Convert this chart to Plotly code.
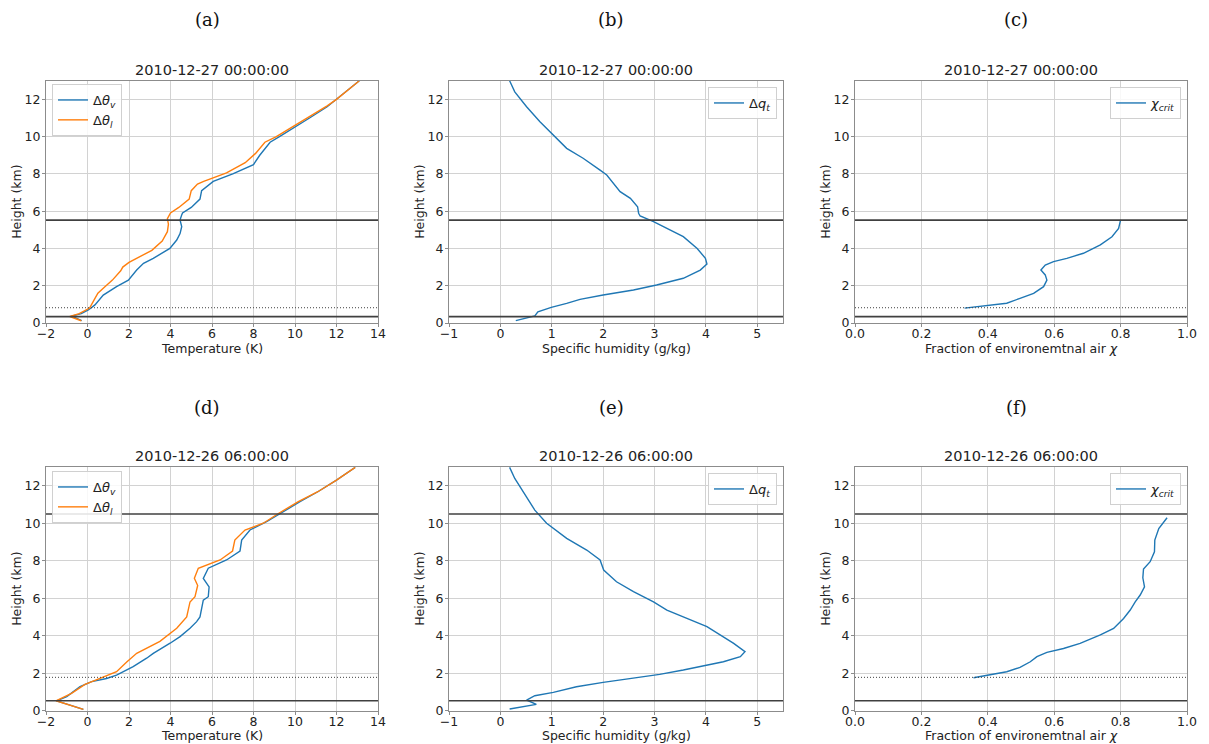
import plotly.graph_objects as go

# ---------------- data ----------------
row_titles = ["2010-12-27 00:00:00", "2010-12-26 06:00:00"]
panel_labels = ["(a)", "(b)", "(c)", "(d)", "(e)", "(f)"]

# (a) temperature, 2010-12-27 00:00
a_thv_x = [-0.28, -0.76, -0.3, 0.04, 0.36, 0.76, 1.4, 1.97, 2.37, 2.7, 3.17, 3.97, 4.3, 4.46, 4.54, 4.46, 4.54,
           4.58, 5.0, 5.42, 5.5, 6.06, 7.0, 8.0, 8.3, 8.8, 9.25, 10.0, 10.7, 11.55, 12.0, 13.1]
a_thv_y = [0.13, 0.37, 0.5, 0.7, 0.97, 1.5, 1.95, 2.3, 2.84, 3.2, 3.47, 4.0, 4.45, 4.8, 5.17, 5.53, 5.8,
           5.9, 6.2, 6.65, 7.1, 7.6, 8.0, 8.5, 9.0, 9.7, 10.0, 10.5, 11.0, 11.6, 12.0, 13.0]
a_thl_x = [-0.3, -0.85, -0.4, 0.1, 0.3, 0.5, 0.8, 1.2, 1.6, 1.7, 2.0, 2.6, 3.1, 3.6, 3.85, 3.9, 3.85, 4.0,
           4.4, 4.9, 5.0, 5.3, 5.6, 6.7, 7.6, 8.1, 8.55, 9.1, 9.85, 10.6, 11.55, 12.0, 13.1]
a_thl_y = [0.12, 0.35, 0.5, 0.8, 1.2, 1.6, 1.9, 2.3, 2.8, 3.0, 3.25, 3.6, 3.9, 4.4, 4.9, 5.3, 5.6, 5.9,
           6.2, 6.65, 7.1, 7.45, 7.6, 8.05, 8.6, 9.1, 9.7, 10.0, 10.5, 11.0, 11.65, 12.0, 13.0]

# (b) specific humidity, 2010-12-27 00:00
b_q_x = [0.3, 0.67, 0.73, 0.99, 1.29, 1.55, 2.0, 2.59, 3.04, 3.56, 3.89, 4.02, 3.99, 3.83, 3.56, 3.24, 2.98,
         2.72, 2.69, 2.67, 2.53, 2.33, 2.2, 2.07, 1.94, 1.61, 1.29, 1.03, 0.77, 0.51, 0.28, 0.18]
b_q_y = [0.13, 0.38, 0.6, 0.84, 1.05, 1.27, 1.5, 1.77, 2.04, 2.4, 2.84, 3.17, 3.47, 4.0, 4.63, 5.08, 5.44,
         5.74, 5.89, 6.24, 6.69, 7.05, 7.5, 7.94, 8.2, 8.84, 9.37, 10.09, 10.8, 11.6, 12.4, 13.0]

# (c) critical mixing fraction, 2010-12-27 00:00
c_chi_x = [0.33, 0.377, 0.417, 0.457, 0.497, 0.538, 0.568, 0.578, 0.573, 0.56, 0.573, 0.598, 0.638, 0.688,
           0.739, 0.774, 0.794, 0.80]
c_chi_y = [0.8, 0.91, 0.97, 1.06, 1.32, 1.59, 1.95, 2.3, 2.58, 2.84, 3.11, 3.29, 3.47, 3.74, 4.19, 4.63,
           5.08, 5.53]

# (d) temperature, 2010-12-26 06:00
d_thv_x = [-0.2, -1.49, -1.0, -0.36, 0.2, 0.92, 1.4, 2.2, 2.85, 3.17, 3.98, 4.46, 4.94, 5.26, 5.42, 5.5,
           5.58, 5.82, 5.86, 5.58, 5.82, 6.7, 7.35, 7.43, 7.83, 8.63, 9.28, 10.24, 11.1, 12.0, 12.9]
d_thv_y = [0.07, 0.52, 0.75, 1.28, 1.55, 1.72, 1.9, 2.35, 2.8, 3.06, 3.6, 3.95, 4.4, 4.75, 5.0, 5.46,
           5.9, 6.08, 6.6, 7.06, 7.6, 8.04, 8.52, 9.1, 9.64, 10.08, 10.52, 11.15, 11.68, 12.3, 12.98]
d_thl_x = [-0.2, -1.52, -0.77, -0.12, 0.6, 1.4, 1.89, 2.37, 3.49, 4.3, 4.78, 4.94, 5.18, 5.31, 5.15, 5.34,
           6.39, 6.99, 7.1, 7.59, 8.47, 9.2, 10.16, 11.1, 12.0, 12.9]
d_thl_y = [0.07, 0.53, 0.92, 1.4, 1.72, 2.08, 2.6, 3.06, 3.7, 4.4, 5.0, 5.8, 6.08, 6.68, 7.06, 7.6,
           8.04, 8.52, 9.1, 9.64, 10.0, 10.52, 11.15, 11.68, 12.3, 12.98]

# (e) specific humidity, 2010-12-26 06:00
e_q_x = [0.18, 0.7, 0.51, 0.67, 1.03, 1.48, 2.0, 2.59, 3.1, 3.56, 3.89, 4.34, 4.67, 4.76, 4.54, 4.28, 4.02,
         3.63, 3.24, 2.98, 2.85, 2.59, 2.26, 2.01, 1.94, 1.68, 1.29, 0.9, 0.67, 0.47, 0.28, 0.18]
e_q_y = [0.09, 0.34, 0.57, 0.8, 0.98, 1.28, 1.51, 1.72, 1.94, 2.17, 2.35, 2.61, 2.88, 3.15, 3.59, 4.04,
         4.48, 4.92, 5.37, 5.81, 5.99, 6.35, 6.88, 7.5, 8.04, 8.57, 9.19, 10.0, 10.7, 11.59, 12.39, 12.98]

# (f) critical mixing fraction, 2010-12-26 06:00
f_chi_x = [0.357, 0.407, 0.457, 0.497, 0.528, 0.548, 0.578, 0.628, 0.678, 0.739, 0.779, 0.809, 0.829,
           0.844, 0.859, 0.872, 0.867, 0.869, 0.889, 0.902, 0.903, 0.915, 0.94]
f_chi_y = [1.76, 1.9, 2.08, 2.31, 2.61, 2.88, 3.11, 3.32, 3.59, 4.04, 4.39, 4.92, 5.37, 5.81, 6.17,
           6.61, 7.09, 7.56, 7.95, 8.48, 9.1, 9.72, 10.29]

# reference levels (km): solid = cloud base / top, dotted = level of free convection
row1_solid = [0.34, 5.52]
row1_dotted = 0.82
row2_solid = [0.53, 10.49]
row2_dotted = 1.78

x_titles = ["Temperature (K)", "Specific humidity (g/kg)", "Fraction of environemtnal air <i>χ</i>"]
y_title = "Height (km)"
x_ranges = [[-2, 14], [-1, 5.5], [0, 1]]
x_dticks = [2, 1, 0.2]
x_formats = ["d", "d", ".1f"]

# ---------------- figure ----------------
W, H = 1209, 744
BLUE, ORANGE = "#1f77b4", "#ff7f0e"
FONT = "DejaVu Sans"
LEVEL_COLOR = "#404040"
TEXT = "#222"

col_px = [(46, 378), (449, 783), (855, 1187)]
row_px = [(80.7, 323), (467, 710.7)]

fig = go.Figure()


def ax_id(i):
    return "" if i == 1 else str(i)


lab_thv = "Δ<i>θ</i><sub><i>v</i></sub>"
lab_thl = "Δ<i>θ</i><sub><i>l</i></sub>"
lab_q = "Δ<i>q</i><sub><i>t</i></sub>"
lab_chi = "<i>χ</i><sub><i>crit</i></sub>"

series = [
    [(a_thv_x, a_thv_y, BLUE, lab_thv), (a_thl_x, a_thl_y, ORANGE, lab_thl)],
    [(b_q_x, b_q_y, BLUE, lab_q)],
    [(c_chi_x, c_chi_y, BLUE, lab_chi)],
    [(d_thv_x, d_thv_y, BLUE, lab_thv), (d_thl_x, d_thl_y, ORANGE, lab_thl)],
    [(e_q_x, e_q_y, BLUE, lab_q)],
    [(f_chi_x, f_chi_y, BLUE, lab_chi)],
]

layout = dict(
    width=W, height=H, margin=dict(l=0, r=0, t=0, b=0, autoexpand=False),
    paper_bgcolor="white", plot_bgcolor="white",
    font=dict(family=FONT, size=12, color=TEXT),
    showlegend=True,
)

annotations = []
shapes = []
for p in range(6):
    r, c = divmod(p, 3)
    i = p + 1
    xa, ya = "x" + ax_id(i), "y" + ax_id(i)
    legend_name = "legend" + ax_id(i)
    for (xs, ys, col, name) in series[p]:
        fig.add_trace(go.Scatter(x=xs, y=ys, mode="lines", name=name,
                                 line=dict(color=col, width=1.4),
                                 xaxis=xa, yaxis=ya, legend=legend_name))
    x0, x1 = col_px[c]
    t0, t1 = row_px[r]
    dom_x = [x0 / W, x1 / W]
    dom_y = [1 - t1 / H, 1 - t0 / H]
    common = dict(showgrid=True, gridcolor="#d2d2d2", gridwidth=1,
                  showline=True, linecolor="#8c8c8c", linewidth=1, mirror=True,
                  ticks="outside", ticklen=3, tickcolor="#8c8c8c",
                  zeroline=False, automargin=False, tickfont=dict(size=12.5, color=TEXT))
    layout["xaxis" + ax_id(i)] = dict(
        common, domain=dom_x, anchor=ya, range=x_ranges[c], dtick=x_dticks[c],
        tick0=x_ranges[c][0], tickformat=x_formats[c], ticklabelstandoff=-4)
    layout["yaxis" + ax_id(i)] = dict(
        common, domain=dom_y, anchor=xa, range=[0, 13], dtick=2, tick0=0, ticklabelstandoff=-1)

    # axis titles (placed as annotations so they sit exactly as in the reference)
    annotations.append(dict(text=x_titles[c], xref="paper", yref="paper",
                            x=(x0 + x1) / 2 / W, y=1 - (t1 + 25) / H, xanchor="center", yanchor="middle",
                            showarrow=False, font=dict(size=12.5, color=TEXT, family=FONT)))
    annotations.append(dict(text=y_title, xref="paper", yref="paper", textangle=-90,
                            x=(x0 - 29) / W, y=1 - (t0 + t1) / 2 / H, xanchor="center", yanchor="middle",
                            showarrow=False, font=dict(size=12.5, color=TEXT, family=FONT)))

    # legend per subplot
    if c == 0:
        leg = dict(x=52 / W, y=1 - (84 if r == 0 else 471) / H, xanchor="left", yanchor="top")
    else:
        leg = dict(x=(777 if c == 1 else 1181) / W, y=1 - (87 if r == 0 else 473) / H,
                   xanchor="right", yanchor="top")
    leg.update(bgcolor="rgba(255,255,255,0.85)", bordercolor="#d0d0d0", borderwidth=1,
               font=dict(size=13, color=TEXT), itemwidth=30, tracegroupgap=0)
    layout[legend_name] = leg

    # subplot title
    annotations.append(dict(text=row_titles[r], xref="paper", yref="paper",
                            x=(x0 + x1) / 2 / W, y=1 - (t0 - 1) / H, xanchor="center", yanchor="bottom",
                            showarrow=False, font=dict(size=14.5, color=TEXT, family=FONT)))
    # panel label
    annotations.append(dict(text=panel_labels[p], xref="paper", yref="paper",
                            x=((x0 + x1) / 2 - 5) / W, y=1 - (20 if r == 0 else 408) / H,
                            xanchor="center", yanchor="middle", showarrow=False,
                            font=dict(size=18, color="#111", family="DejaVu Serif")))

    # reference levels
    solid = row1_solid if r == 0 else row2_solid
    dotted = row1_dotted if r == 0 else row2_dotted
    for lev in solid:
        shapes.append(dict(type="line", xref=xa + " domain", yref=ya, x0=0, x1=1, y0=lev, y1=lev,
                           line=dict(color=LEVEL_COLOR, width=1.6)))
    if c != 1:
        shapes.append(dict(type="line", xref=xa + " domain", yref=ya, x0=0, x1=1, y0=dotted, y1=dotted,
                           line=dict(color=LEVEL_COLOR, width=1, dash="1px,2px")))

layout["annotations"] = annotations
layout["shapes"] = shapes
fig.update_layout(**layout)

fig.write_html("out.html")
